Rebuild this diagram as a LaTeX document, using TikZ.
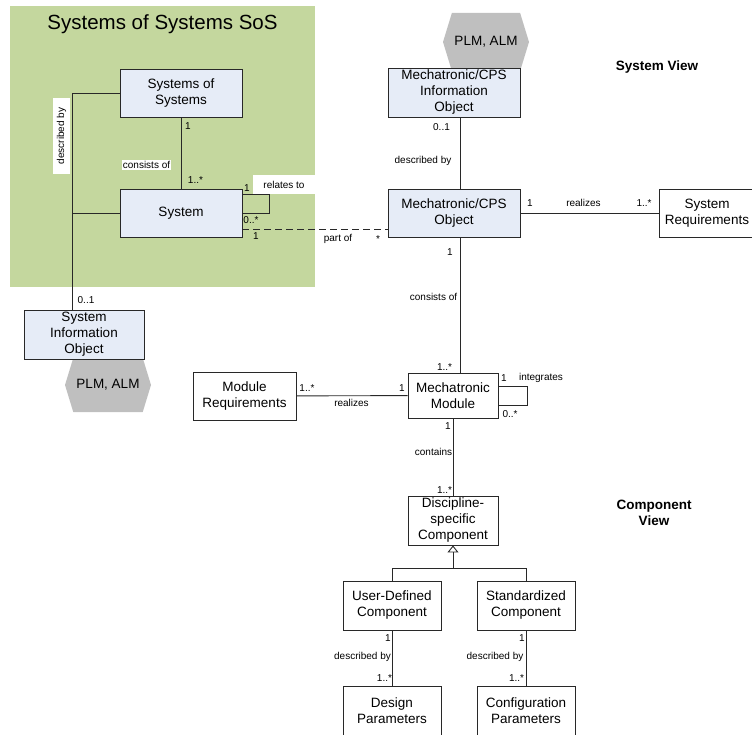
\documentclass[tikz,border=0pt]{standalone}
\usepackage{fontspec}
\setmainfont{Liberation Sans}
\usetikzlibrary{arrows.meta, positioning, shapes.symbols}

\definecolor{sosgreen}{RGB}{196,215,158}
\definecolor{boxblue}{RGB}{230,236,247}
\definecolor{plmgray}{RGB}{191,191,191}
\definecolor{linegray}{RGB}{40,40,40}

\tikzset{
	umlbox/.style = {draw=linegray, line width=0.9pt, fill=white, align=center, inner sep=1pt, font=\fontsize{13.5}{16}\selectfont},
	bluebox/.style = {umlbox, fill=boxblue},
	plmhex/.style = {signal, signal to=west and east, signal pointer angle=146, fill=plmgray, inner sep=0pt, minimum width=86pt, font=\fontsize{13.5}{16}\selectfont},
	mult/.style = {font=\fontsize{10}{12}\selectfont, inner sep=1pt},
	assoc/.style = {draw=linegray, line width=0.9pt},
	viewtitle/.style = {font=\fontsize{13.5}{16}\bfseries\selectfont, align=center}
}

\begin{document}
\begin{tikzpicture}[x=1pt, y=-1pt]

\useasboundingbox (0,0) rectangle (752,735);

\fill [sosgreen] (10,6) rectangle (315,287);
\node [font=\fontsize{20.5}{24}\selectfont] (sostitle) at (162.5,24) {Systems of Systems SoS};
\node [mult, fill=white, minimum width=62pt, minimum height=19pt] (relates) at (284,184.5) {relates to};

\node [plmhex, minimum height=54pt] (plmsys) at (108,385) {PLM, ALM};
\node [plmhex, minimum height=58pt] (plmcps) at (486,42) {PLM, ALM};

\node [bluebox, minimum width=122pt, minimum height=48pt] (sos) at (181,93) {Systems of\\Systems};
\node [bluebox, minimum width=122pt, minimum height=48pt] (sys) at (181,213) {System};
\node [bluebox, minimum width=120pt, minimum height=49pt] (sysinfo) at (84,334.5) {System\\Information\\Object};
\node [bluebox, minimum width=132pt, minimum height=49pt] (cpsinfo) at (454,92.5) {Mechatronic/CPS\\Information\\Object};
\node [bluebox, minimum width=132pt, minimum height=48pt] (cps) at (454,213) {Mechatronic/CPS\\Object};
\node [umlbox, minimum width=96pt, minimum height=48pt] (sysreq) at (707,213) {System\\Requirements};
\node [umlbox, minimum width=103pt, minimum height=48pt] (modreq) at (244.5,396) {Module\\Requirements};
\node [umlbox, minimum width=90pt, minimum height=45pt] (mod) at (453,395.5) {Mechatronic\\Module};
\node [umlbox, minimum width=90pt, minimum height=49pt] (disc) at (453,520.5) {Discipline-\\specific\\Component};
\node [umlbox, minimum width=98pt, minimum height=49pt] (udc) at (392,605.5) {User-Defined\\Component};
\node [umlbox, minimum width=98pt, minimum height=49pt] (stdc) at (526,605.5) {Standardized\\Component};
\node [umlbox, minimum width=98pt, minimum height=50pt] (design) at (392,711) {Design\\Parameters};
\node [umlbox, minimum width=98pt, minimum height=50pt] (config) at (526,711) {Configuration\\Parameters};

\node [viewtitle] (sysview) at (657,67) {System View};
\node [viewtitle] (compview) at (654,513) {Component\\View};

% system of systems
\coordinate (dbx) at ([xshift=-12pt]sysinfo.north);
\draw [assoc] (sos) -- (sys);
\draw [assoc] (sos.west) -| (dbx);
\draw [assoc] (sys.west) -- (sys.west -| dbx);
\draw [assoc] ([yshift=19pt]sys.east) -- ++(27,0) |- (sys.east);
\draw [assoc, dash pattern=on 7pt off 4pt] ([yshift=-16pt]sys.east) -- ([yshift=-16pt]cps.west);

\node [mult] (m1) at (188,126) {1};
\node [mult, fill=white] (consists1) at (146.5,165) {consists of};
\node [mult] (m2) at (195.5,180) {1..*};
\node [mult, fill=white, rotate=90, minimum width=76pt, minimum height=17pt] (describ1) at (61.5,136) {described by};
\node [mult] (m3) at (86,300) {0..1};
\node [mult] (m4) at (247,188) {1};
\node [mult] (m5) at (251,220) {0..*};
\node [mult] (m6) at (256,236) {1};
\node [mult] (partof) at (338,239) {part of};
\node [mult] (m7) at (378,239) {*};

% system view
\draw [assoc] ([xshift=6pt]cpsinfo.south) -- ([xshift=6pt]cps.north);
\draw [assoc] (cps) -- (sysreq);
\draw [assoc] ([xshift=6pt]cps.south) -- ([xshift=6pt]cps.south |- mod.north);

\node [mult] (m8) at (441.5,127) {0..1};
\node [mult] (describ2) at (423,161) {described by};
\node [mult] (m9) at (450,252) {1};
\node [mult] (consists2) at (433.5,297) {consists of};
\node [mult] (m10) at (444.5,367) {1..*};
\node [mult] (m11) at (530,203) {1};
\node [mult] (realizes1) at (583.5,203) {realizes};
\node [mult] (m12) at (644,203) {1..*};

% module
\draw [assoc] (modreq) -- (mod);
\draw [assoc] ([yshift=9.5pt]mod.east) -- ++(29,0) |- ([yshift=-9.5pt]mod.east);
\draw [assoc] (mod) -- (disc);

\node [mult] (m13) at (307,388) {1..*};
\node [mult] (realizes2) at (351.5,403) {realizes};
\node [mult] (m14) at (402,388) {1};
\node [mult] (m15) at (504,378) {1};
\node [mult] (integrates) at (541,378) {integrates};
\node [mult] (m16) at (510,414) {0..*};
\node [mult] (m17) at (448,426) {1};
\node [mult] (contains) at (433.5,452) {contains};
\node [mult] (m18) at (444.5,490) {1..*};

% component view
\coordinate (gen) at ([yshift=-23pt]disc.south);
\draw [assoc, -{Triangle[open, width=11pt, length=7pt]}] (gen) -- (disc.south);
\draw [assoc] (udc.north) |- (gen);
\draw [assoc] (stdc.north) |- (gen);
\draw [assoc] (udc) -- (design);
\draw [assoc] (stdc) -- (config);

\node [mult] (m19) at (388,638) {1};
\node [mult] (describ3) at (362.5,657) {described by};
\node [mult] (m20) at (384.5,678) {1..*};
\node [mult] (m21) at (522,638) {1};
\node [mult] (describ4) at (495,657) {described by};
\node [mult] (m22) at (516.5,678) {1..*};

\end{tikzpicture}
\end{document}
